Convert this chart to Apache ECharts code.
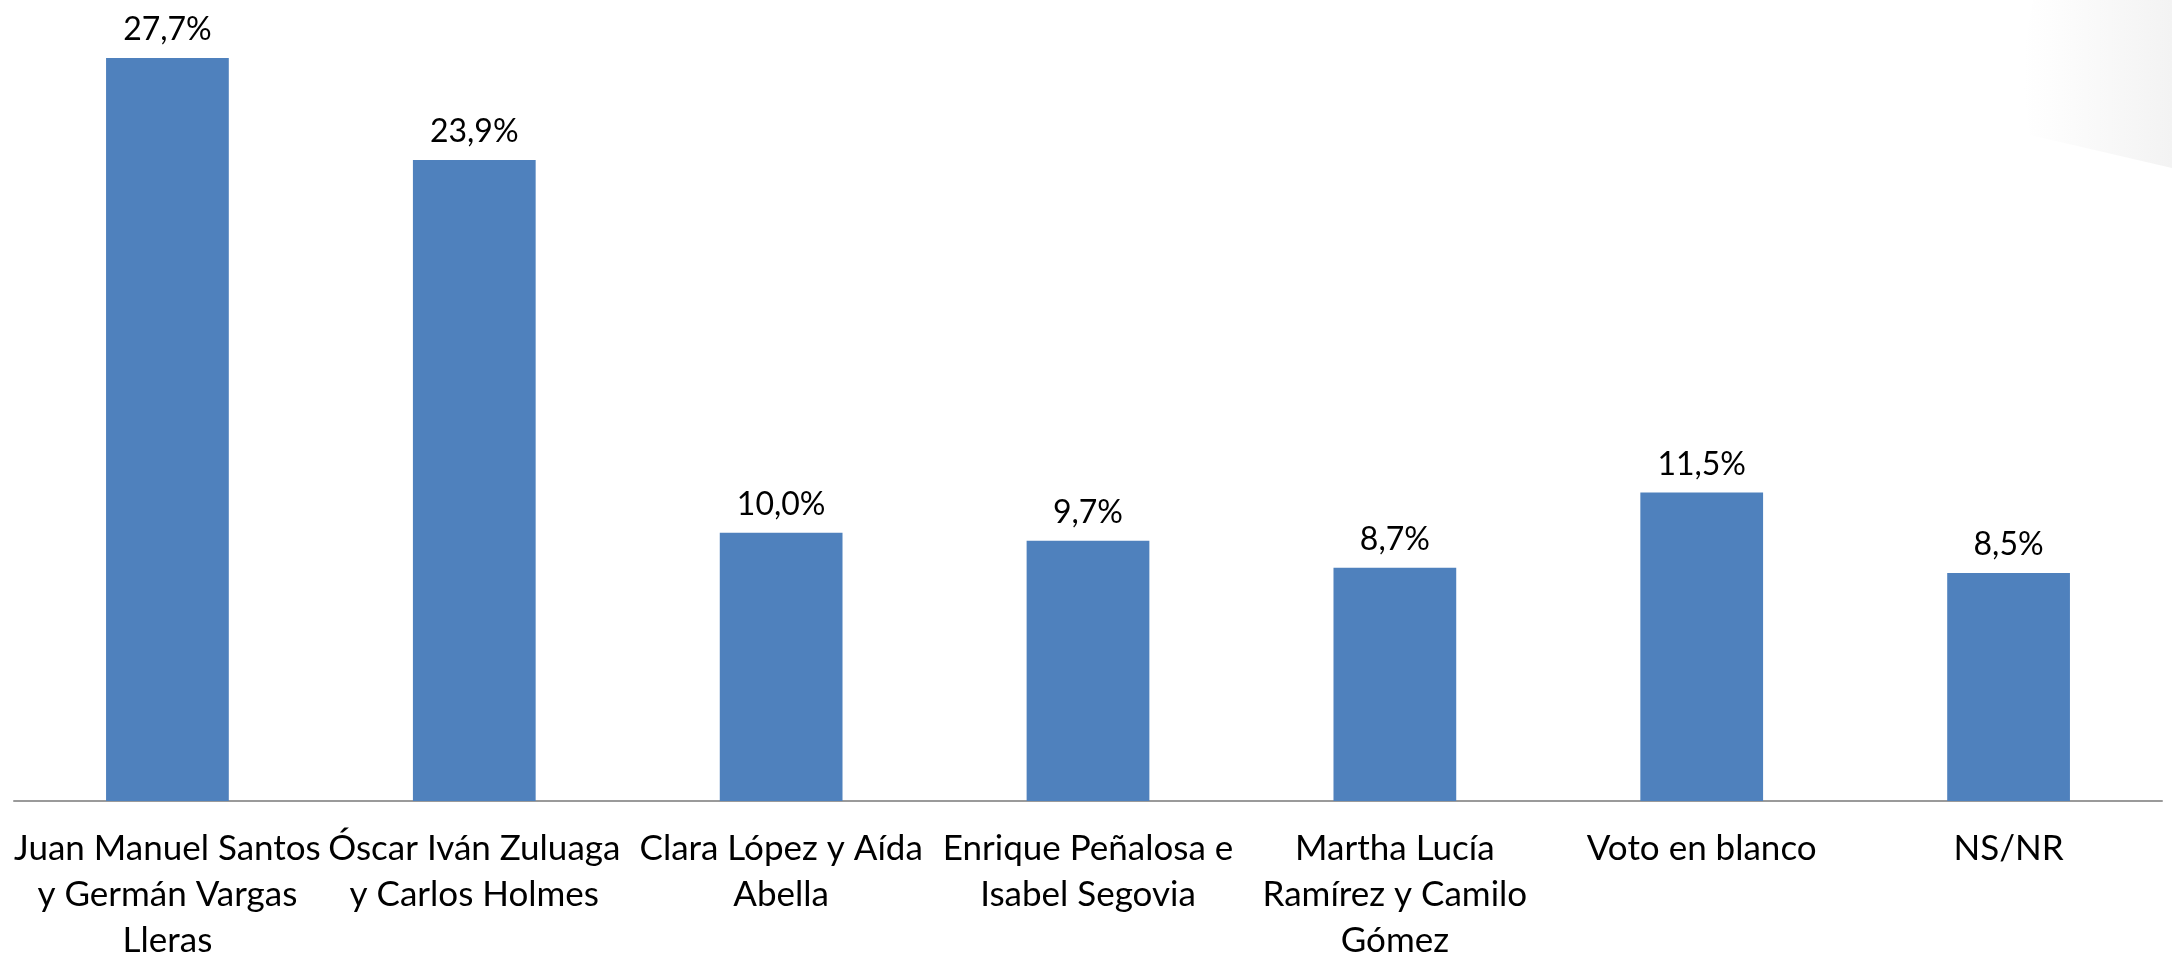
<!DOCTYPE html>
<html>
<head>
<meta charset="utf-8">
<script src="https://cdn.jsdelivr.net/npm/echarts@6/dist/echarts.min.js"></script>
<style>
    html, body { margin: 0; padding: 0; background: #fff; }
    #chart { width: 2172px; height: 957px; }
</style>
</head>
<body>
<div id="chart"></div>
<script>
    // categories, wrapped the way the slide shows them
    const candidatos = [
        'Juan Manuel Santos\ny Germán Vargas\nLleras',
        'Óscar Iván Zuluaga\ny Carlos Holmes',
        'Clara López y Aída\nAbella',
        'Enrique Peñalosa e\nIsabel Segovia',
        'Martha Lucía\nRamírez y Camilo\nGómez',
        'Voto en blanco',
        'NS/NR'
    ]
    const intencion = [27.7, 23.9, 10.0, 9.7, 8.7, 11.5, 8.5]

    const chart = echarts.init(document.getElementById('chart'))

    const option = {
        animation: false,
        textStyle: { fontFamily: 'Lato' },
        grid: { left: 14, right: 10, top: 50, bottom: 156, outerBoundsMode: 'none', containLabel: false },
        // faint grey corner decoration of the slide
        graphic: [{
            type: 'polygon',
            silent: true,
            z: -10,
            shape: {
                points: [[2033, 0], [2172, 0], [2172, 168], [2030, 135], [2024, 90], [2026, 40]]
            },
            style: {
                fill: new echarts.graphic.LinearGradient(0, 0, 1, 0, [
                    { offset: 0, color: '#ffffff' },
                    { offset: 1, color: '#f3f3f3' }
                ])
            }
        }],
        xAxis: {
            type: 'category',
            data: candidatos,
            axisTick: { show: false },
            axisLine: { lineStyle: { color: '#9a9a9a', width: 2 } },
            axisLabel: {
                interval: 0,
                color: '#000',
                fontSize: 35,
                lineHeight: 46,
                margin: 25
            }
        },
        yAxis: {
            type: 'value',
            min: 0,
            max: 28,
            show: false,
            splitLine: { show: false }
        },
        series: [{
            type: 'bar',
            data: intencion,
            barWidth: '40%',
            itemStyle: { color: '#4F81BD' },
            label: {
                show: true,
                position: 'top',
                distance: 12,
                color: '#000',
                fontSize: 32,
                formatter: p => p.value.toFixed(1).replace('.', ',') + '%'
            }
        }]
    }

    chart.setOption(option)
</script>
</body>
</html>
